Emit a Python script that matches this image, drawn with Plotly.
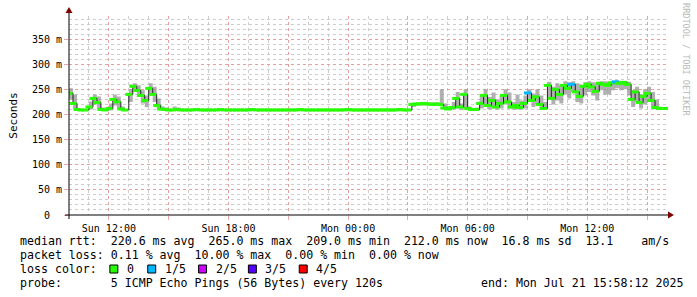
import plotly.graph_objects as go
import pandas as pd

# ---------------- data ----------------
start_time = "2025-07-20 10:00"
step = "12min"

median_ms = [
    242, 222, 210, 209, 209, 215, 232, 224, 210, 209,
    212, 230, 225, 211, 209, 240, 256, 248, 238, 228,
    252, 240, 218, 211, 210,
    209, 209, 210, 209, 209, 209, 209, 210, 209, 209,
    209, 209, 209, 210, 209, 209, 209, 209, 209, 209,
    209, 210, 209, 209, 209, 209, 209, 209, 209, 209,
    209, 209, 209, 210, 209, 209, 209, 209, 209, 209,
    209, 209, 209, 209, 209, 210, 209, 209, 209, 209,
    209, 209, 209, 209, 209, 209, 209, 209, 210, 209,
    209,
    220, 221, 221, 222, 221, 220, 221, 220, 213, 211,
    214, 232, 215, 240, 212, 210, 210, 222, 238, 218,
    228, 215, 222, 238, 225, 215, 218, 214, 222, 243,
    228, 235, 220, 212, 258, 232, 250, 240, 258, 252,
    260, 245, 236, 256, 260, 255, 246, 262, 260, 258,
    263, 265, 262, 264, 260, 230, 245, 224, 236, 242,
    228, 214, 212, 212, 212,
]

smoke_lo = [
    230, 212, 208, 208, 208, 210, 220, 212, 208, 208,
    208, 218, 212, 208, 208, 225, 245, 235, 222, 215,
    240, 225, 210, 208, 208,
    208, 208, 208, 208, 208, 208, 208, 208, 208, 208,
    208, 208, 208, 208, 208, 208, 208, 208, 208, 208,
    208, 208, 208, 208, 208, 208, 208, 208, 208, 208,
    208, 208, 208, 208, 208, 208, 208, 208, 208, 208,
    208, 208, 208, 208, 208, 208, 208, 208, 208, 208,
    208, 208, 208, 208, 208, 208, 208, 208, 208, 208,
    208,
    215, 218, 218, 218, 218, 218, 218, 218, 209, 209,
    210, 212, 209, 212, 209, 209, 209, 212, 215, 210,
    212, 210, 212, 220, 212, 210, 210, 210, 212, 225,
    215, 220, 210, 209, 235, 220, 228, 222, 240, 232,
    245, 225, 222, 238, 245, 238, 228, 248, 240, 240,
    248, 252, 248, 250, 238, 215, 225, 212, 220, 225,
    212, 210, 210, 210, 210,
]

smoke_hi = [
    252, 240, 212, 211, 211, 226, 240, 236, 214, 211,
    222, 240, 236, 216, 211, 250, 262, 258, 248, 238,
    262, 255, 232, 216, 214,
    211, 216, 214, 211, 211, 211, 211, 211, 211, 211,
    211, 211, 211, 211, 211, 211, 211, 211, 211, 211,
    211, 211, 211, 211, 211, 211, 211, 211, 211, 211,
    211, 211, 211, 211, 211, 211, 211, 211, 211, 211,
    211, 211, 211, 211, 211, 211, 211, 211, 211, 211,
    211, 211, 211, 211, 211, 211, 211, 211, 211, 211,
    211,
    223, 224, 224, 224, 224, 224, 224, 250, 222, 214,
    225, 245, 222, 250, 216, 212, 214, 240, 250, 235,
    244, 230, 238, 250, 244, 225, 240, 228, 238, 250,
    242, 250, 238, 225, 265, 255, 262, 258, 266, 264,
    266, 262, 258, 264, 266, 264, 262, 266, 266, 265,
    266, 268, 266, 266, 265, 248, 255, 240, 250, 255,
    245, 230, 214, 213, 213,
]

loss_count = [
    0, 0, 0, 0, 0, 0, 0, 0, 0, 0,
    0, 0, 0, 0, 0, 0, 0, 0, 0, 0,
    0, 0, 0, 0, 0,
    0, 0, 0, 0, 0, 0, 0, 0, 0, 0,
    0, 0, 0, 0, 0, 0, 0, 0, 0, 0,
    0, 0, 0, 0, 0, 0, 0, 0, 0, 0,
    0, 0, 0, 0, 0, 0, 0, 0, 0, 0,
    0, 0, 0, 0, 0, 0, 0, 0, 0, 0,
    0, 0, 0, 0, 0, 0, 0, 0, 0, 0,
    0,
    0, 0, 0, 0, 0, 0, 0, 0, 0, 0,
    0, 0, 0, 0, 0, 0, 0, 0, 0, 0,
    0, 0, 0, 0, 0, 0, 0, 0, 0, 1,
    0, 0, 0, 0, 0, 0, 0, 0, 0, 0,
    1, 0, 0, 0, 0, 0, 0, 0, 0, 0,
    0, 1, 0, 0, 0, 0, 0, 0, 0, 0,
    0, 0, 0, 0, 0,
]

y_tick_vals = [0, 50, 100, 150, 200, 250, 300, 350]
y_tick_text = ["0\u00a0\u00a0", "50 m", "100 m", "150 m", "200 m", "250 m", "300 m", "350 m"]
x_tick_vals = ["2025-07-20 12:00", "2025-07-20 15:00", "2025-07-20 18:00", "2025-07-20 21:00",
               "2025-07-21 00:00", "2025-07-21 03:00", "2025-07-21 06:00", "2025-07-21 09:00",
               "2025-07-21 12:00", "2025-07-21 15:00"]
x_tick_text = ["Sun 12:00", "", "Sun 18:00", "", "Mon 00:00", "", "Mon 06:00", "", "Mon 12:00", ""]

loss_labels = ["0", "1/5", "2/5", "3/5", "4/5"]
loss_colors = ["#26ff00", "#00b8ff", "#cc00ff", "#5500ff", "#ff0000"]

legend_line1 = "median rtt:  220.6 ms avg  265.0 ms max  209.0 ms min  212.0 ms now  16.8 ms sd  13.1    am/s"
legend_line2 = "packet loss: 0.11 % avg  10.00 % max  0.00 % min  0.00 % now"
legend_line3 = "loss color:"
legend_line4 = "probe:       5 ICMP Echo Pings (56 Bytes) every 120s"
legend_end = "end: Mon Jul 21 15:58:12 2025"
watermark = "RRDTOOL / TOBI OETIKER"

# ---------------- figure ----------------
times = pd.date_range(start_time, periods=len(median_ms), freq=step)

W, H = 697, 297
L, R, T, B = 67, 29, 16, 82
PW, PH = W - L - R, H - T - B


def px(x):
    return (x - L) / PW


def py(y):
    return (T + PH - y) / PH


MONO = "DejaVu Sans Mono"

fig = go.Figure()

# smoke band
fig.add_trace(go.Scatter(x=times, y=smoke_lo, mode="lines", line=dict(width=0, shape="hv"),
                         hoverinfo="skip", showlegend=False))
fig.add_trace(go.Scatter(x=times, y=smoke_hi, mode="lines", line=dict(width=0, shape="hv"),
                         fill="tonexty", fillcolor="rgba(150,150,150,0.75)",
                         hoverinfo="skip", showlegend=False))
# dark median connector
fig.add_trace(go.Scatter(x=times, y=median_ms, mode="lines",
                         line=dict(color="#222222", width=1, shape="hv"),
                         hoverinfo="skip", showlegend=False))
# median blobs coloured by loss
marker_cols = [loss_colors[c] for c in loss_count]
fig.add_trace(go.Scatter(x=times, y=median_ms, mode="markers",
                         marker=dict(symbol="line-ew-open", size=5, color=marker_cols,
                                     line=dict(width=3, color=marker_cols)),
                         hoverinfo="skip", showlegend=False))

grid_red = "rgba(235,150,150,0.85)"
grid_gray = "rgba(200,200,200,0.9)"

fig.update_xaxes(
    type="date",
    range=["2025-07-20 10:00", "2025-07-21 16:03"],
    tickmode="array", tickvals=x_tick_vals, ticktext=x_tick_text,
    showgrid=True, gridcolor=grid_red, griddash="dot", gridwidth=1,
    ticks="outside", ticklen=4, tickcolor=grid_red,
    tickfont=dict(family=MONO, size=10, color="#000"),
    minor=dict(dtick=3600000, tick0="2025-07-20 00:00", showgrid=True,
               gridcolor=grid_gray, griddash="dot", gridwidth=1, ticks=""),
    showline=False, zeroline=False, fixedrange=True,
)
fig.update_yaxes(
    range=[0, 396],
    tickmode="array", tickvals=y_tick_vals, ticktext=y_tick_text,
    showgrid=True, gridcolor=grid_red, griddash="dot", gridwidth=1,
    ticks="outside", ticklen=4, tickcolor=grid_red,
    tickfont=dict(family=MONO, size=10, color="#000"),
    minor=dict(dtick=10, showgrid=True, gridcolor=grid_gray, griddash="dot", gridwidth=1, ticks=""),
    showline=False, zeroline=False, fixedrange=True,
    title=dict(text="Seconds", font=dict(family=MONO, size=11, color="#000"), standoff=12),
)

shapes = []
# axes lines
shapes.append(dict(type="line", xref="paper", yref="paper", x0=px(63), x1=px(669), y0=0, y1=0,
                   line=dict(color="#000", width=1)))
shapes.append(dict(type="line", xref="paper", yref="paper", x0=0, x1=0, y0=py(219), y1=py(11),
                   line=dict(color="#000", width=1)))
# arrows
shapes.append(dict(type="path", xref="paper", yref="paper",
                   path=f"M {px(668)} {py(211.5)} L {px(674)} {py(215)} L {px(668)} {py(218.5)} Z",
                   fillcolor="#7f0000", line=dict(color="#7f0000", width=0)))
shapes.append(dict(type="path", xref="paper", yref="paper",
                   path=f"M {px(63.5)} {py(13)} L {px(67)} {py(7)} L {px(70.5)} {py(13)} Z",
                   fillcolor="#7f0000", line=dict(color="#7f0000", width=0)))

annotations = []
LEG_FONT = dict(family=MONO, size=11.6, color="#000")


def nb(s):
    return s.replace(" ", "\u00a0")


for text, x, y in [(legend_line1, 16, 241), (legend_line2, 16, 255), (legend_line3, 16, 269),
                   (legend_line4, 16, 283), (legend_end, 478, 283)]:
    annotations.append(dict(text=nb(text), xref="paper", yref="paper", x=px(x), y=py(y),
                            xanchor="left", yanchor="middle", showarrow=False, font=LEG_FONT))

box_x = [108, 146, 197, 247, 298]
for bx, lab, col in zip(box_x, loss_labels, loss_colors):
    shapes.append(dict(type="rect", xref="paper", yref="paper", x0=px(bx), x1=px(bx + 8),
                       y0=py(273), y1=py(265), fillcolor=col, line=dict(color="#000", width=1)))
    annotations.append(dict(text=lab, xref="paper", yref="paper", x=px(bx + 15), y=py(269),
                            xanchor="left", yanchor="middle", showarrow=False, font=LEG_FONT))

annotations.append(dict(text=nb(watermark), xref="paper", yref="paper", x=px(686), y=py(60),
                        xanchor="center", yanchor="middle", showarrow=False, textangle=90,
                        font=dict(family=MONO, size=8.5, color="#b8b8b8")))

fig.update_layout(
    width=W, height=H,
    margin=dict(l=L, r=R, t=T, b=B, pad=0),
    paper_bgcolor="#ffffff", plot_bgcolor="#ffffff",
    shapes=shapes, annotations=annotations, showlegend=False,
)

fig.write_html("out.html", config={"displayModeBar": False})
